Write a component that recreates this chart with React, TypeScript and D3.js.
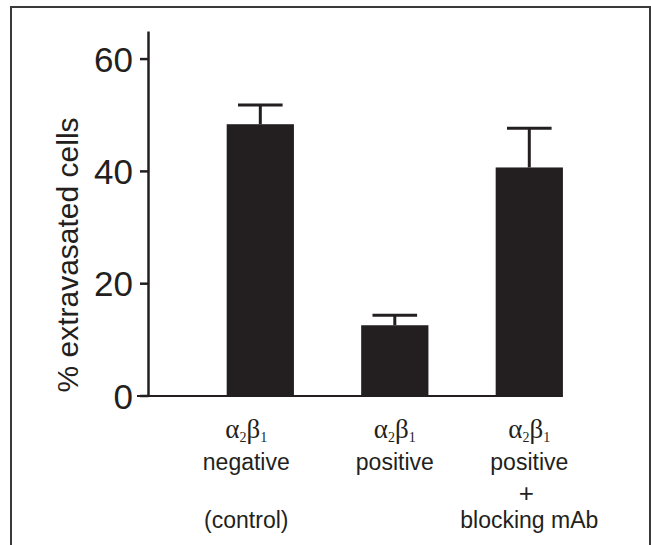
import React from "react";
import * as d3 from "d3";

const categories = ["neg", "pos", "posBlock"];
const values = [48.4, 12.6, 40.7];
const errorTops = [51.8, 14.4, 47.7];
const yTicks = [0, 20, 40, 60];
const labelLines: string[][] = [
  ["negative", "", "(control)"],
  ["positive", "", ""],
  ["positive", "+", "blocking mAb"],
];
const yTitle = "% extravasated cells";

const W = 651;
const H = 545;
const ink = "#231f20";
const sans = "'Liberation Sans', Arial, sans-serif";
// layout: horizontal offset of each category's label block from its bar centre
const LABEL_SHIFT = [-14, 0, 0];

export default function App() {
  const y = d3.scaleLinear().domain([0, 65]).range([396, 31]);
  const x = d3
    .scaleBand<string>()
    .domain(categories)
    .range([148, 641.6])
    .paddingInner(0.5)
    .paddingOuter(0.585);
  const bw = x.bandwidth();
  const lastRight = (x(categories[categories.length - 1]) as number) + bw;
  const axisX = 148.5;

  return (
    <svg
      width={W}
      height={H}
      style={{ position: "absolute", left: 0, top: 0, background: "#fff" }}
    >
      <rect x={0} y={0} width={W} height={H} fill="#fff" />
      {/* frame */}
      <rect x={11} y={7} width={639} height={600} fill="none" stroke="#3a3a3a" strokeWidth={2} />

      {/* bars */}
      {categories.map((c, i) => (
        <rect
          key={c}
          x={x(c)}
          y={y(values[i])}
          width={bw}
          height={y(0) - y(values[i])}
          fill={ink}
        />
      ))}
      {/* error bars */}
      {categories.map((c, i) => {
        const cx = (x(c) as number) + bw / 2;
        return (
          <g key={c + "e"} stroke={ink}>
            <line x1={cx} x2={cx} y1={y(values[i])} y2={y(errorTops[i])} strokeWidth={3} />
            <line x1={cx - 22.3} x2={cx + 22.3} y1={y(errorTops[i])} y2={y(errorTops[i])} strokeWidth={3} />
          </g>
        );
      })}

      {/* y axis */}
      <line x1={axisX} x2={axisX} y1={31.5} y2={y(0) + 1} stroke={ink} strokeWidth={2.5} />
      <line x1={137} x2={lastRight} y1={y(0)} y2={y(0)} stroke={ink} strokeWidth={2.2} />
      {yTicks.map((t) => (
        <g key={t}>
          <line x1={140} x2={axisX} y1={y(t)} y2={y(t)} stroke={ink} strokeWidth={2.5} />
          <text
            x={133}
            y={y(t)}
            dy="0.36em"
            textAnchor="end"
            fontFamily={sans}
            fontSize={35}
            fill={ink}
          >
            {t}
          </text>
        </g>
      ))}
      <text
        transform={`translate(78, 255) rotate(-90)`}
        textAnchor="middle"
        fontFamily={sans}
        fontSize={30}
        fill={ink}
      >
        {yTitle}
      </text>

      {/* category labels */}
      {categories.map((c, i) => {
        const cx = (x(c) as number) + bw / 2 + LABEL_SHIFT[i];
        const lines = labelLines[i];
        return (
          <g key={c + "l"} fill={ink} textAnchor="middle">
            <text x={cx} y={438} fontFamily="'Liberation Serif', serif" fontSize={27}>
              α<tspan fontSize={14} dy={4}>2</tspan>
              <tspan dy={-4}>β</tspan>
              <tspan fontSize={14} dy={4}>1</tspan>
            </text>
            <text x={cx} y={470} fontFamily={sans} fontSize={23}>{lines[0]}</text>
            {lines[1] && (
              <text x={cx - 3} y={502} fontFamily={sans} fontSize={26}>{lines[1]}</text>
            )}
            {lines[2] && (
              <text x={cx} y={528} fontFamily={sans} fontSize={23}>{lines[2]}</text>
            )}
          </g>
        );
      })}
    </svg>
  );
}
